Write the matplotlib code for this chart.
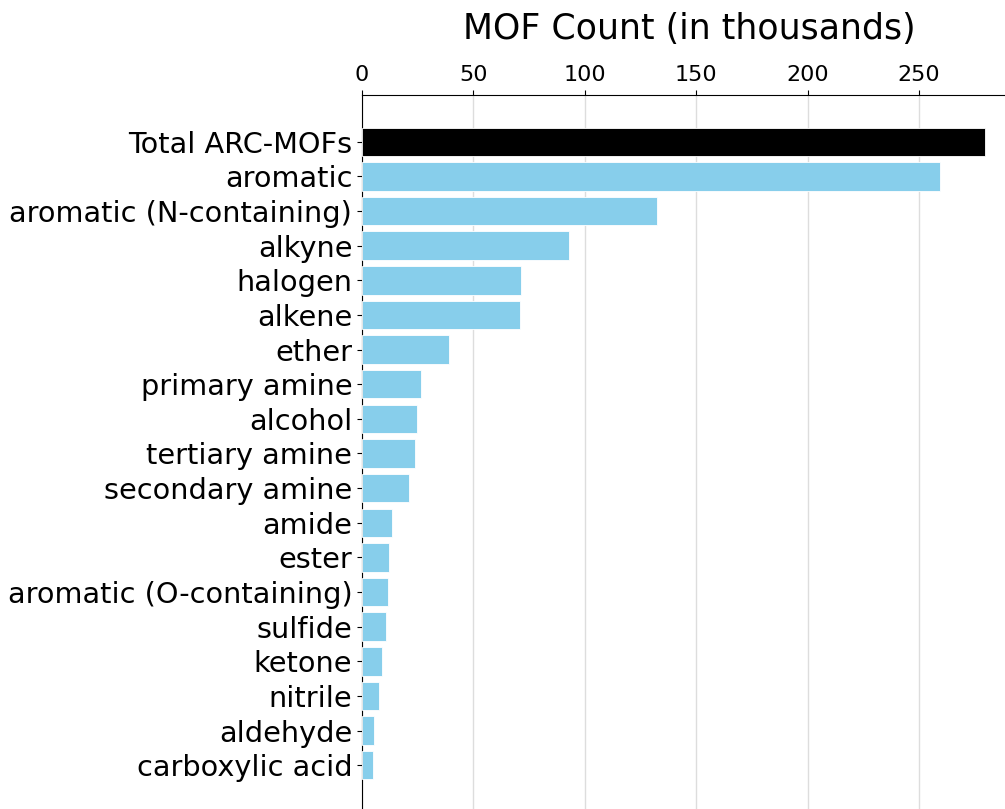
import matplotlib
matplotlib.use("Agg")
import matplotlib.pyplot as plt

categories = [
    "Total ARC-MOFs", "aromatic", "aromatic (N-containing)", "alkyne", "halogen",
    "alkene", "ether", "primary amine", "alcohol", "tertiary amine",
    "secondary amine", "amide", "ester", "aromatic (O-containing)", "sulfide",
    "ketone", "nitrile", "aldehyde", "carboxylic acid",
]
counts_thousands = [
    279.6, 259.4, 132.4, 92.8, 71.3,
    70.9, 39.0, 26.4, 24.5, 23.6,
    21.2, 13.4, 11.9, 11.5, 10.6,
    9.2, 7.7, 5.6, 4.9,
]
bar_colors = ["black"] + ["skyblue"] * (len(categories) - 1)

fig = plt.figure(figsize=(10.05, 8.09), dpi=100)
ax = fig.add_axes([362 / 1005, -3 / 809, 654 / 1005, 717 / 809])

ypos = list(range(len(categories)))
ax.barh(ypos, counts_thousands, height=0.82, color=bar_colors,
        edgecolor="white", linewidth=0.6, zorder=3)
ax.set_yticks(ypos)
ax.set_yticklabels(categories, fontsize=20.7)
ax.invert_yaxis()

ax.xaxis.tick_top()
ax.xaxis.set_label_position("top")
ax.set_xlabel("MOF Count (in thousands)", fontsize=25, labelpad=19)
ax.tick_params(axis="x", labelsize=16)
ax.grid(axis="x", color="#dddddd", linewidth=1.0, zorder=0)
ax.set_axisbelow(True)

ax.spines["right"].set_visible(False)
ax.spines["bottom"].set_visible(False)

fig.savefig("out.png", dpi=100)
